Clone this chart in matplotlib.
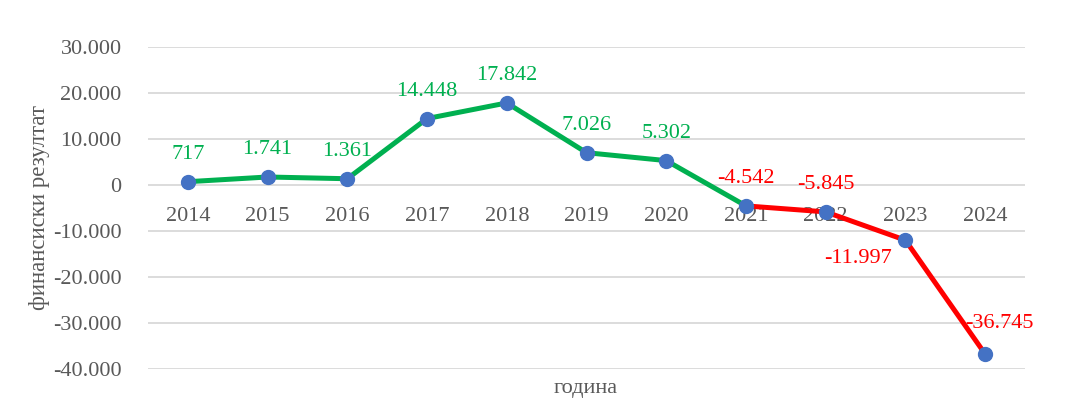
import matplotlib
matplotlib.use("Agg")
import matplotlib.pyplot as plt
from matplotlib.ticker import FuncFormatter

years = ["2014", "2015", "2016", "2017", "2018", "2019", "2020", "2021", "2022", "2023", "2024"]
values = [717, 1741, 1361, 14448, 17842, 7026, 5302, -4542, -5845, -11997, -36745]
labels = ["717", "1.741", "1.361", "14.448", "17.842", "7.026", "5.302", "-4.542", "-5.845", "-11.997", "-36.745"]
yticks = [-40000, -30000, -20000, -10000, 0, 10000, 20000, 30000]

GREEN = "#00B050"
RED = "#FF0000"
BLUE = "#4472C4"
GREY = "#595959"
FONT = "Liberation Serif"

plt.rcParams["font.family"] = FONT

fig = plt.figure(figsize=(10.7, 4.12), dpi=100)
ax = fig.add_axes([148/1070, 1 - 369/412, (1025-148)/1070, (369-47)/412])

x = list(range(len(years)))
split = 7
ax.plot(x[:split+1], values[:split+1], color=GREEN, lw=3.6, solid_capstyle="round", zorder=2)
ax.plot(x[split:], values[split:], color=RED, lw=3.6, solid_capstyle="round", zorder=2)
ax.plot(x, values, ls="none", marker="o", ms=10, color=BLUE, zorder=3)

# label offsets in points
offsets = {i: (0, 19.5) for i in range(len(years))}
offsets[9] = (-34, -13)
offsets[10] = (10, 22)
for i, (v, lab) in enumerate(zip(values, labels)):
    c = GREEN if v >= 0 else RED
    dx, dy = offsets[i]
    ax.annotate(lab, (i, v), xytext=(dx, dy), textcoords="offset points",
                ha="center", va="center", color=c, fontsize=16)

ax.set_xlim(-0.5, len(years) - 0.5)
ax.set_ylim(-40000, 30000)
ax.set_yticks(yticks)
ax.yaxis.set_major_formatter(FuncFormatter(lambda v, p: f"{int(v):,}".replace(",", ".")))
ax.grid(axis="y", color="#D9D9D9", lw=1.3)
ax.set_axisbelow(True)
for s in ["top", "right", "left"]:
    ax.spines[s].set_visible(False)
ax.spines["bottom"].set_position(("data", 0))
ax.spines["bottom"].set_visible(False)
ax.set_xticks(x)
ax.set_xticklabels(years)
ax.tick_params(axis="both", length=0, labelsize=16, colors=GREY)
ax.tick_params(axis="x", pad=16)
ax.tick_params(axis="y", pad=19)

fig.text(40/1070, 1 - 208/412, "финансиски резултат", rotation=90, ha="center", va="center",
         fontsize=16.5, color=GREY)
fig.text(586/1070, 1 - 388/412, "година", ha="center", va="center", fontsize=16, color=GREY)

fig.savefig("out.png", dpi=100)
